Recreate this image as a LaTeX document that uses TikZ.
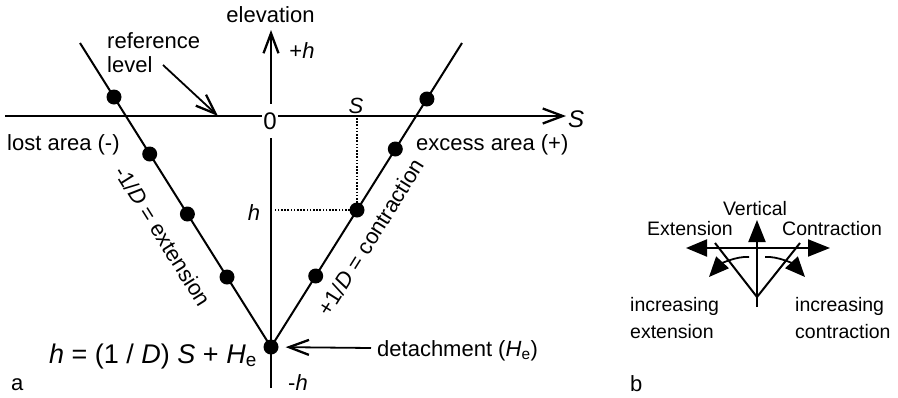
\documentclass[tikz,border=0pt]{standalone}
\usepackage{fontspec}
\setmainfont{Liberation Sans}
\usetikzlibrary{arrows.meta}
\begin{document}
\begin{tikzpicture}[x=1pt,y=-1pt,
  txt/.style={font=\fontsize{22}{26}\selectfont, inner sep=0pt},
  eqtxt/.style={font=\fontsize{27}{30}\selectfont, inner sep=0pt},
  btxt/.style={font=\fontsize{19.5}{23}\selectfont, inner sep=0pt},
  ln/.style={line width=2pt},
  dot/.style={circle, fill=black, inner sep=0pt, minimum size=15pt},
  dotln/.style={line width=1.6pt, dash pattern=on 1.6pt off 1.6pt},
  barb/.style={-{Straight Barb[length=20pt,width=15pt,line width=2.3pt]}},
  tri/.style={-{Triangle[length=22pt,width=17pt]}},
]
\useasboundingbox (0,0) rectangle (898,397);

% ---------- part a: axes ----------
\coordinate (xs) at (5,116);
\coordinate (xe) at (566,116);
\coordinate (ys) at (271,388);
\coordinate (ye) at (271,30);
\draw[ln,barb] (xs) -- (xe);
\draw[ln,barb] (ys) -- (ye);
\node[font=\fontsize{24}{28}\selectfont, inner sep=0pt, fill=white, minimum width=16pt, minimum height=34pt] (zero) at (270,121) {0};

% ---------- V lines and dots ----------
\coordinate (lt) at (80,43);
\coordinate (rt) at (462,43);
\node[dot] (ap) at (271,347) {};
\draw[ln] (lt) -- (ap.center) -- (rt);
\node[dot] (l1) at (114,97) {};
\node[dot] (l2) at (149.7,154) {};
\node[dot] (l3) at (187.4,214) {};
\node[dot] (l4) at (227,277) {};
\node[dot] (r1) at (426.9,99) {};
\node[dot] (r2) at (395.3,149) {};
\node[dot] (r3) at (357,210) {};
\node[dot] (r4) at (315.7,276) {};

% ---------- dotted projections ----------
\coordinate (sx) at (357,118);
\coordinate (hx) at (274,210);
\draw[dotln] (sx) -- (r3.center) -- (hx);

% ---------- labels part a ----------
\node[txt, anchor=base] (elev) at (270.5,22) {elevation};
\node[txt, anchor=base] (ph) at (302,58) {+\textit{h}};
\node[txt, anchor=base west] (ref1) at (107,48) {reference};
\node[txt, anchor=base west] (ref2) at (107,72) {level};
\coordinate (rs) at (163,65);
\coordinate (re) at (218,116);
\draw[line width=1.8pt, barb] (rs) -- (re);
\node[txt, anchor=base west] (lost) at (7,150) {lost area (-)};
\node[txt, anchor=base west] (exc) at (416,150) {excess area (+)};
\node[txt, anchor=base] (sl) at (356,113) {\textit{S}};
\node[font=\fontsize{24}{28}\selectfont, inner sep=0pt, anchor=base west] (se) at (568,127) {\textit{S}};
\node[txt, anchor=base] (hl) at (254,220) {\textit{h}};
\node[txt, anchor=base west] (mh) at (288,390) {-\textit{h}};
\node[txt, rotate=-57.85] (ext) at (163,236) {-1/\textit{D} = extension};
\node[txt, rotate=57.85] (con) at (371,237) {+1/\textit{D} = contraction};
\node[eqtxt, anchor=base west] (eq) at (49,363) {\textit{h} = (1 / \textit{D}) \textit{S} + \textit{H}\textsubscript{e}};
\node[txt, anchor=base west] (det) at (377,356) {detachment (\textit{H}\textsubscript{e})};
\coordinate (da) at (371,348);
\draw[line width=1.8pt, barb, shorten >=7pt] (da) -- (ap);
\node[txt, anchor=base west] (la) at (11,390) {a};
\node[txt, anchor=base west] (lb) at (630,391) {b};

% ---------- part b ----------
\coordinate (bv) at (757,297);
\coordinate (bt1) at (715,243);
\coordinate (bt2) at (800,243);
\coordinate (vb) at (757,307);
\coordinate (vt) at (757,220);
\coordinate (hl1) at (686,248);
\coordinate (hr1) at (830,248);
\draw[ln] (bt1) -- (bv) -- (bt2);
\draw[ln, tri] (vb) -- (vt);
\draw[ln, {Triangle[length=21pt,width=17pt]}-{Triangle[length=22pt,width=17pt]}] (hl1) -- (hr1);
\coordinate (cl0) at (749,257);
\coordinate (cl1) at (709,277);
\coordinate (cr0) at (765,257);
\coordinate (cr1) at (805,277);
\draw[line width=1.8pt, -{Triangle[length=20pt,width=17pt]}] (cl0) .. controls (736,256) and (721,264) .. (cl1);
\draw[line width=1.8pt, -{Triangle[length=20pt,width=17pt]}] (cr0) .. controls (778,256) and (793,264) .. (cr1);
\node[btxt, anchor=base] (bvert) at (755,215) {Vertical};
\node[btxt, anchor=base west] (bext) at (647,235) {Extension};
\node[btxt, anchor=base west] (bcon) at (782,235) {Contraction};
\node[btxt, anchor=base west] (bie1) at (630,311) {increasing};
\node[btxt, anchor=base west] (bie2) at (630,338) {extension};
\node[btxt, anchor=base west] (bic1) at (795,311) {increasing};
\node[btxt, anchor=base west] (bic2) at (795,338) {contraction};
\end{tikzpicture}
\end{document}
